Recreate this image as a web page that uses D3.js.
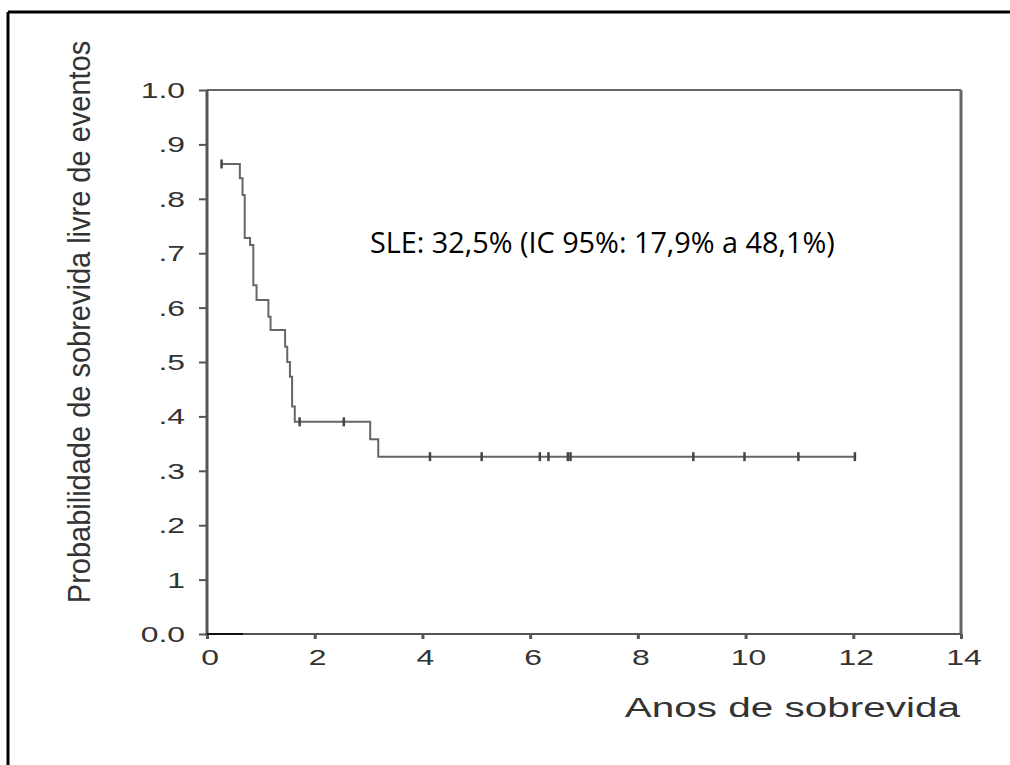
<!DOCTYPE html>
<html>
<head>
<meta charset="utf-8">
<script src="https://cdn.jsdelivr.net/npm/d3@7"></script>
<style>
  html, body { margin: 0; padding: 0; background: #fff; }
  svg { display: block; }
</style>
</head>
<body>
<svg id="chart" width="1010" height="765"></svg>
<script>
// ---- data ----
const eventTimes = [0.27, 0.61, 0.66, 0.70, 0.80, 0.86, 0.92, 1.14, 1.18, 1.45, 1.49, 1.54, 1.58, 1.63, 3.03, 3.18];
const survival   = [0.864, 0.838, 0.807, 0.728, 0.715, 0.641, 0.614, 0.583, 0.559, 0.528, 0.500, 0.473, 0.418, 0.390, 0.358, 0.326];
const endTime = 12.03;
const censorTimes = [0.27, 1.72, 2.54, 4.14, 5.10, 6.18, 6.34, 6.70, 6.75, 9.03, 9.98, 10.98, 12.03];
const yTickValues = [0, 0.1, 0.2, 0.3, 0.4, 0.5, 0.6, 0.7, 0.8, 0.9, 1.0];
const yTickLabels = ["0.0", "1", ".2", ".3", ".4", ".5", ".6", ".7", ".8", ".9", "1.0"];
const xTickValues = [0, 2, 4, 6, 8, 10, 12, 14];
const yTitle = "Probabilidade de sobrevida livre de eventos";
const xTitle = "Anos de sobrevida";
const annotation = "SLE: 32,5% (IC 95%: 17,9% a 48,1%)";

// ---- layout ----
const svg = d3.select("#chart");
const SX = 1.45; // horizontal stretch of original chart text
const x = d3.scaleLinear().domain([0, 14]).range([207, 961]);
const y = d3.scaleLinear().domain([0, 1]).range([634, 90]);
const axisColor = "#555";
const textColor = "#333";
const font = "'Liberation Sans', Arial, sans-serif";

// outer frame (top & left visible)
svg.append("line").attr("x1", 8).attr("x2", 1010).attr("y1", 12).attr("y2", 12)
  .attr("stroke", "#000").attr("stroke-width", 3);
svg.append("line").attr("x1", 8).attr("x2", 8).attr("y1", 12).attr("y2", 765)
  .attr("stroke", "#000").attr("stroke-width", 3);

// plot box top & right
svg.append("line").attr("x1", x(0)).attr("x2", x(14)).attr("y1", y(1)).attr("y2", y(1))
  .attr("stroke", "#666").attr("stroke-width", 2);
svg.append("line").attr("x1", x(14)).attr("x2", x(14)).attr("y1", y(1)).attr("y2", y(0))
  .attr("stroke", "#666").attr("stroke-width", 3);

// y axis
const yAxis = d3.axisLeft(y).tickValues(yTickValues).tickSize(8).tickFormat("");
const gy = svg.append("g").attr("transform", `translate(${x(0)},0)`).call(yAxis);
gy.select(".domain").attr("stroke", axisColor).attr("stroke-width", 3).attr("d", `M0,${y(1)}V${y(0)}`);
gy.selectAll(".tick line").attr("stroke", axisColor).attr("stroke-width", 2);

// x axis
const xAxis = d3.axisBottom(x).tickValues(xTickValues).tickSize(5).tickFormat("");
const gx = svg.append("g").attr("transform", `translate(0,${y(0)})`).call(xAxis);
gx.select(".domain").attr("stroke", axisColor).attr("stroke-width", 2).attr("d", `M${x(0)},0H${x(14)}`);
gx.selectAll(".tick line").attr("stroke", axisColor).attr("stroke-width", 3);
// dark segment at start of x axis
svg.append("line").attr("x1", x(0)).attr("x2", x(0.67)).attr("y1", y(0)).attr("y2", y(0))
  .attr("stroke", "#111").attr("stroke-width", 2);

// y tick labels
svg.append("g").selectAll("text").data(yTickValues).join("text")
  .attr("transform", (d) => `translate(185,${y(d) + 8}) scale(${SX},1)`)
  .attr("text-anchor", "end")
  .attr("font-family", font).attr("font-size", 22).attr("fill", textColor)
  .text((d, i) => yTickLabels[i]);

// x tick labels
svg.append("g").selectAll("text").data(xTickValues).join("text")
  .attr("transform", (d) => `translate(${x(d) + 3},665) scale(${SX},1)`)
  .attr("text-anchor", "middle")
  .attr("font-family", font).attr("font-size", 22).attr("fill", textColor)
  .text((d) => d);

// axis titles
svg.append("text")
  .attr("transform", `translate(960,717) scale(1.5,1)`)
  .attr("text-anchor", "end")
  .attr("font-family", font).attr("font-size", 27).attr("fill", textColor)
  .text(xTitle);
svg.append("text")
  .attr("transform", `translate(90,322) scale(1.1,1) rotate(-90)`)
  .attr("text-anchor", "middle")
  .attr("font-family", font).attr("font-size", 29).attr("fill", textColor)
  .text(yTitle);

// KM curve
const pts = eventTimes.map((t, i) => [t, survival[i]]);
pts.push([endTime, survival[survival.length - 1]]);
const line = d3.line().x((d) => x(d[0])).y((d) => y(d[1])).curve(d3.curveStepAfter);
svg.append("path").datum(pts).attr("d", line)
  .attr("fill", "none").attr("stroke", "#666").attr("stroke-width", 2);

// survival at time t
function S(t) {
  let s = survival[0];
  for (let i = 0; i < eventTimes.length; i++) if (eventTimes[i] <= t) s = survival[i];
  return s;
}
// censor marks
svg.append("g").selectAll("line").data(censorTimes).join("line")
  .attr("x1", (d) => x(d)).attr("x2", (d) => x(d))
  .attr("y1", (d) => y(S(d)) - 4.5).attr("y2", (d) => y(S(d)) + 4.5)
  .attr("stroke", "#444").attr("stroke-width", 2.5);

// annotation
const ann = svg.append("text")
  .attr("x", 370).attr("y", 253)
  .attr("font-family", "'Open Sans', 'Noto Sans', sans-serif").attr("font-size", 22).attr("fill", "#000")
  .text(annotation);
const w = ann.node().getComputedTextLength();
ann.attr("font-size", 22 * 465 / w);
</script>
</body>
</html>
